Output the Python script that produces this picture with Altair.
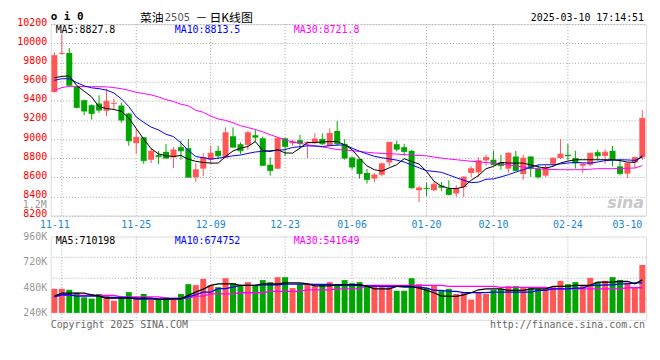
import altair as alt
import pandas as pd

# ---------------- data ----------------
dates = ["11-08","11-11","11-12","11-13","11-14","11-15","11-18","11-19","11-20","11-21",
         "11-22","11-25","11-26","11-27","11-28","11-29","12-02","12-03","12-04","12-05",
         "12-06","12-09","12-10","12-11","12-12","12-13","12-16","12-17","12-18","12-19",
         "12-20","12-23","12-24","12-25","12-26","12-27","12-30","12-31","01-02","01-03",
         "01-06","01-07","01-08","01-09","01-10","01-13","01-14","01-15","01-16","01-17",
         "01-20","01-21","01-22","01-23","01-24","01-27","02-05","02-06","02-07","02-10",
         "02-11","02-12","02-13","02-14","02-17","02-18","02-19","02-20","02-21","02-24",
         "02-25","02-26","02-27","02-28","03-03","03-04","03-05","03-06","03-07","03-10"]

opens = [9492,9889,9899,9544,9406,9354,9371,9295,9368,9350,
         9267,8957,9019,8784,8832,8867,8808,8915,8905,8601,
         8691,8784,8877,8808,9029,8946,8939,9040,9008,8732,
         8691,9008,8957,8988,8957,8957,9001,8929,9084,8950,
         8808,8791,8646,8587,8628,8756,8946,8915,8877,8466,
         8490,8466,8514,8483,8432,8497,8646,8653,8777,8784,
         8756,8691,8818,8635,8818,8691,8618,8742,8801,8836,
         8801,8722,8732,8863,8825,8877,8715,8639,8756,8808]
highs = [9906,10096,9951,9550,9412,9361,9457,9526,9423,9381,
         9274,9112,9019,8905,8877,8950,8915,8984,9001,8749,
         8853,8932,8932,9122,9122,8967,9088,9095,9026,8808,
         9015,9015,8991,9043,8974,9060,9060,9112,9188,8998,
         8818,8791,8687,8646,8756,8967,8984,8950,8887,8508,
         8542,8552,8552,8570,8518,8611,8715,8808,8836,8877,
         8836,8860,8877,8836,8818,8732,8732,8808,9001,8950,
         8877,8749,8853,8887,8894,8929,8784,8756,8818,9302]
lows = [9485,9882,9554,9319,9250,9205,9274,9240,9309,9171,
        8929,8846,8742,8749,8736,8794,8698,8784,8601,8552,
        8611,8739,8791,8801,8912,8843,8887,8967,8715,8618,
        8688,8825,8932,8905,8801,8950,8939,8929,8932,8784,
        8680,8587,8535,8549,8611,8715,8870,8825,8483,8342,
        8404,8456,8456,8411,8397,8394,8604,8604,8722,8722,
        8680,8646,8663,8577,8604,8587,8604,8715,8791,8777,
        8691,8646,8715,8777,8742,8715,8622,8594,8691,8784]
closes = [9872,9896,9561,9330,9292,9267,9302,9395,9374,9198,
          8981,9019,8774,8874,8815,8801,8887,8877,8601,8680,
          8808,8853,8825,9067,8915,8877,9067,9019,8725,8670,
          9008,8922,8974,8957,8967,9001,8950,9060,8950,8801,
          8708,8639,8577,8625,8742,8967,8894,8870,8490,8490,
          8483,8528,8497,8421,8480,8604,8691,8774,8808,8732,
          8722,8853,8670,8801,8691,8604,8704,8801,8843,8825,
          8749,8739,8853,8825,8863,8784,8639,8749,8808,9216]

ma5 = [9640,9654,9660,9560,9500,9440,9337,9319,9309,9290,
       9220,9110,9000,8900,8845,8825,8818,8829,8790,8767,
       8756,8749,8749,8818,8875,8905,8922,8974,8880,8870,
       8890,8855,8853,8905,8963,8963,8970,8974,8974,8940,
       8890,8800,8720,8680,8665,8700,8732,8795,8765,8740,
       8663,8560,8508,8485,8483,8500,8570,8620,8690,8715,
       8756,8750,8749,8749,8730,8710,8697,8715,8750,8770,
       8784,8784,8784,8784,8784,8784,8775,8760,8756,8828]
ma10 = [9613,9630,9630,9590,9555,9535,9526,9512,9480,9420,
        9340,9230,9175,9125,9095,9050,9026,8960,8880,8818,
        8805,8791,8800,8812,8825,8833,8850,8865,8872,8878,
        8881,8890,8912,8920,8929,8927,8922,8930,8937,8939,
        8905,8873,8845,8820,8805,8793,8780,8760,8730,8700,
        8670,8662,8653,8625,8596,8570,8545,8550,8580,8584,
        8605,8628,8655,8680,8705,8730,8732,8732,8740,8750,
        8756,8752,8749,8760,8775,8780,8784,8782,8777,8813]
ma30 = [9509,9537,9551,9550,9548,9547,9547,9545,9537,9526,
        9509,9488,9475,9461,9440,9412,9392,9364,9347,9300,
        9280,9240,9210,9195,9170,9140,9120,9100,9075,9045,
        9019,8991,8970,8955,8940,8930,8918,8905,8890,8887,
        8878,8870,8862,8855,8850,8847,8843,8838,8833,8828,
        8825,8812,8801,8792,8784,8776,8768,8762,8755,8749,
        8740,8730,8720,8708,8698,8690,8685,8682,8680,8680,
        8680,8680,8685,8691,8691,8691,8693,8695,8698,8722]

volumes = [467000,467000,458000,430000,387000,374000,418000,405000,355000,387000,
           436000,387000,418000,364000,364000,387000,374000,418000,511000,502000,
           561000,499000,483000,567000,520000,499000,530000,499000,549000,530000,
           577000,577000,474000,511000,511000,492000,511000,530000,511000,549000,
           520000,530000,499000,499000,492000,492000,449000,449000,567000,511000,
           477000,499000,449000,467000,418000,430000,364000,430000,418000,458000,
           467000,492000,492000,483000,474000,467000,467000,483000,542000,511000,
           530000,499000,570000,530000,542000,577000,551000,523000,483000,692000]
vma5_k = [399,427,427,427,427,411,399,380,380,380,
          380,380,380,380,368,368,374,374,405,436,
          464,499,514,514,514,499,499,499,514,514,
          514,523,523,523,514,495,495,495,506,506,
          506,506,492,467,467,467,490,490,490,474,
          452,430,399,399,396,411,430,458,467,467,
          467,452,452,452,467,467,467,490,490,490,
          499,499,499,530,530,530,536,536,514,551]
vma10_k = [390,411,411,399,399,399,399,385,385,385,
           385,371,371,371,371,371,371,371,390,411,
           436,436,469,469,483,499,499,499,505,505,
           505,511,511,511,511,508,508,508,499,499,
           499,499,492,492,490,490,490,483,483,483,
           474,452,452,443,443,432,432,432,432,436,
           436,436,436,436,436,452,452,467,467,467,
           474,474,499,499,505,505,514,514,523,523]
vma30_k = [399,405,405,405,405,405,405,405,405,392,
           392,392,392,392,392,380,380,380,380,399,
           399,420,420,420,420,430,430,430,430,443,
           443,443,443,443,458,458,458,458,467,467,
           467,467,499,499,499,499,499,499,499,499,
           499,499,499,490,490,490,490,490,490,490,
           480,480,480,480,480,480,480,467,467,467,
           467,467,467,467,467,467,467,477,477,477]

tick_dates = ["11-11","11-25","12-09","12-23","01-06","01-20","02-10","02-24","03-10"]
price_ticks = [8200,8400,8600,8800,9000,9200,9400,9600,9800,10000,10200]
vol_ticks = [240000,480000,720000,960000]
price_ma_labels = ["MA5:8827.8","MA10:8813.5","MA30:8721.8"]
vol_ma_labels = ["MA5:710198","MA10:674752","MA30:541649"]

# ---------------- styling ----------------
MONO = "DejaVu Sans Mono"
CJK = "Noto Sans CJK SC"
RED = "#FF5656"
GREEN = "#00A600"
GRID = "#A8A8A8"
BLUE_TXT = "#1A86D6"
W, HP, HV = 600, 193, 84
PRICE_DOMAIN = [8200, 10200]
VOL_DOMAIN = [174500, 960000]
VOL_BASE = 240000

df = pd.DataFrame({
    "date": dates, "open": opens, "high": highs, "low": lows, "close": closes,
    "ma5": ma5, "ma10": ma10, "ma30": ma30, "volume": volumes,
    "vma5": [v * 1000 for v in vma5_k], "vma10": [v * 1000 for v in vma10_k],
    "vma30": [v * 1000 for v in vma30_k],
})
df["dir"] = ["up" if c >= o else "down" for o, c in zip(opens, closes)]

xscale = alt.Scale(domain=dates, paddingInner=0, paddingOuter=0)
xaxis = alt.Axis(values=tick_dates, title=None, ticks=False, domain=False, grid=False,
                 labelAngle=0, labelColor=BLUE_TXT, labelFont=MONO, labelFontSize=10,
                 labelPadding=4,
                 labelAlign=alt.condition("datum.value == '03-10'", alt.value("right"), alt.value("center")),
                 labelOffset=alt.condition("datum.value == '11-11'", alt.value(-7), alt.value(0)))
X = alt.X("date:O", scale=xscale, axis=xaxis)
Xv = alt.X("date:O", scale=xscale, axis=None)

yscale = alt.Scale(domain=PRICE_DOMAIN, nice=False, zero=False)
yaxis = alt.Axis(values=price_ticks, format="d", title=None, ticks=False, domain=False, grid=True,
                 gridColor=GRID, gridDash=[1, 2], labelColor="#FF0000", labelFont=MONO,
                 labelFontSize=10, labelPadding=4, labelOffset=-2)
color = alt.Color("dir:N", scale=alt.Scale(domain=["up", "down"], range=[RED, GREEN]), legend=None)

base = alt.Chart(df)

vgrid = alt.Chart(pd.DataFrame({"date": tick_dates[:-1]})).mark_rule(
    color=GRID, strokeDash=[1, 2], strokeWidth=1).encode(x=X)
wick = base.mark_rule(strokeWidth=1).encode(
    x=X, y=alt.Y("low:Q", scale=yscale, axis=yaxis), y2="high:Q", color=color)
body = base.mark_bar(width=6).encode(
    x=X, y=alt.Y("open:Q", scale=yscale, axis=yaxis), y2="close:Q", color=color)
doji = base.mark_tick(thickness=1, size=6).encode(
    x=X, y=alt.Y("close:Q", scale=yscale, axis=yaxis), color=color)
l5 = base.mark_line(color="black", strokeWidth=1).encode(x=X, y=alt.Y("ma5:Q", scale=yscale, axis=yaxis))
l10 = base.mark_line(color="#0000FF", strokeWidth=1).encode(x=X, y=alt.Y("ma10:Q", scale=yscale, axis=yaxis))
l30 = base.mark_line(color="#FF00FF", strokeWidth=1).encode(x=X, y=alt.Y("ma30:Q", scale=yscale, axis=yaxis))


def label(txt, x, y, color="black", align="left", size=10, weight="normal", font=MONO, style="normal"):
    return alt.Chart(pd.DataFrame({"t": [txt]})).mark_text(
        align=align, baseline="middle", font=font, fontSize=size, fontWeight=weight,
        fontStyle=style, color=color).encode(x=alt.value(x), y=alt.value(y), text="t:N")


price_texts = [
    label("o i 0", 0, -7, size=11, weight="bold"),
    label("菜油", 90, -6.5, size=12, font=CJK),
    label("2505", 115, -6, color="#555555", size=10, font="DejaVu Sans"),
    label("－", 146, -6.5, size=12, font=CJK),
    label("日K线图", 160, -6.5, size=12, font=CJK),
    label("2025-03-10 17:14:51", 598, -6, align="right"),
    label(price_ma_labels[0], 5, 5.5),
    label(price_ma_labels[1], 125, 5.5, color="#0000FF"),
    label(price_ma_labels[2], 245, 5.5, color="#FF00FF"),
    label("1.2M", -4, 182, color="#999999", align="right"),
    label("sina", 598, 180, color="#C8C8C8", size=16, weight="bold", font="DejaVu Sans",
          style="italic", align="right"),
]

price = alt.layer(vgrid, wick, body, doji, l30, l10, l5, *price_texts).properties(width=W, height=HP)

# ---------------- volume panel ----------------
vscale = alt.Scale(domain=VOL_DOMAIN, nice=False, zero=False)
vaxis = alt.Axis(values=vol_ticks, title=None, ticks=False, domain=False, grid=False,
                 labelColor="#999999", labelFont=MONO, labelFontSize=10, labelPadding=4,
                 labelExpr="datum.value / 1000 + 'K'")
lo, hi = VOL_DOMAIN
hgrid_v = alt.Chart(pd.DataFrame({"v": [lo + (hi - lo) * f for f in (0.25, 0.5, 0.75)]})).mark_rule(
    color=GRID, strokeDash=[1, 2]).encode(y=alt.Y("v:Q", scale=vscale, axis=vaxis))
vgrid_v = alt.Chart(pd.DataFrame({"date": tick_dates[:-1]})).mark_rule(
    color=GRID, strokeDash=[1, 2]).encode(x=Xv)
vbars = base.mark_bar(width=6).encode(
    x=Xv, y=alt.Y("volume:Q", scale=vscale, axis=vaxis), y2=alt.datum(VOL_BASE), color=color)
v5 = base.mark_line(color="black", strokeWidth=1.3).encode(x=Xv, y=alt.Y("vma5:Q", scale=vscale, axis=vaxis))
v10 = base.mark_line(color="#0000FF", strokeWidth=1.3).encode(x=Xv, y=alt.Y("vma10:Q", scale=vscale, axis=vaxis))
v30 = base.mark_line(color="#FF00FF", strokeWidth=1.3).encode(x=Xv, y=alt.Y("vma30:Q", scale=vscale, axis=vaxis))

vol_texts = [
    label(vol_ma_labels[0], 5, 4.5),
    label(vol_ma_labels[1], 125, 4.5, color="#0000FF"),
    label(vol_ma_labels[2], 245, 4.5, color="#FF00FF"),
    label("Copyright 2025 SINA.COM", 0, 89, color="#666666"),
    label("http://finance.sina.com.cn", 599, 89, color="#666666", align="right"),
]

vol = alt.layer(hgrid_v, vgrid_v, vbars, v30, v10, v5, *vol_texts).properties(width=W, height=HV)

chart = alt.vconcat(price, vol, spacing=21, bounds="flush").properties(
    padding={"left": 8, "top": 1, "right": 5, "bottom": 5}
).configure_view(stroke="#A0A0A0", strokeWidth=1.2).configure(background="white")

chart.save("out.html", embed_options={"renderer": "svg", "actions": False})
